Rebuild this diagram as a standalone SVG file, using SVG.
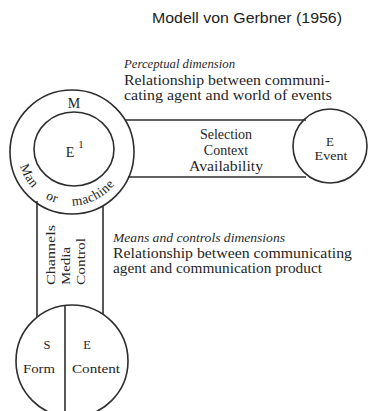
<svg xmlns="http://www.w3.org/2000/svg" width="369" height="411" viewBox="0 0 369 411">
  <defs>
    <style>
      .ln { fill: none; stroke: #2e2e2e; stroke-width: 1.6; }
      .t { font-family: "Liberation Serif", "Times New Roman", serif; fill: #262626; }
      .it { font-family: "Liberation Serif", "Times New Roman", serif; font-style: italic; fill: #2a2a2a; font-size: 12px; }
      .c { text-anchor: middle; }
    </style>
    <path id="arcMan" d="M 19.5 164 A 54 54 0 0 0 124.5 164"/>
  </defs>
  <rect width="369" height="411" fill="#ffffff"/>

  <text x="152" y="23" font-family="Liberation Sans, Arial, sans-serif" font-size="14" fill="#222" textLength="190" lengthAdjust="spacingAndGlyphs">Modell von Gerbner (1956)</text>

  <g id="connectors">
    <line class="ln" x1="125" y1="120" x2="306" y2="120"/>
    <line class="ln" x1="128" y1="177" x2="306" y2="177"/>
    <line class="ln" x1="37" y1="201" x2="37" y2="317"/>
    <line class="ln" x1="103" y1="206" x2="103" y2="314"/>
  </g>

  <g id="perceptual-label">
    <text class="it" x="124" y="68" textLength="111" lengthAdjust="spacingAndGlyphs">Perceptual dimension</text>
    <text class="t" x="124" y="85" font-size="14" textLength="206" lengthAdjust="spacingAndGlyphs">Relationship between communi-</text>
    <text class="t" x="124" y="100" font-size="14" textLength="208" lengthAdjust="spacingAndGlyphs">cating agent and world of events</text>
  </g>

  <g id="perceptual-band">
    <text class="t c" x="226" y="139" font-size="14">Selection</text>
    <text class="t c" x="226" y="155" font-size="14">Context</text>
    <text class="t c" x="226" y="171" font-size="14" textLength="74" lengthAdjust="spacingAndGlyphs">Availability</text>
  </g>

  <g id="means-band">
    <text class="t" transform="translate(55 285) rotate(-90)" font-size="13" textLength="60" lengthAdjust="spacingAndGlyphs">Channels</text>
    <text class="t" transform="translate(70 285) rotate(-90)" font-size="13" textLength="38" lengthAdjust="spacingAndGlyphs">Media</text>
    <text class="t" transform="translate(85 285) rotate(-90)" font-size="13" textLength="47" lengthAdjust="spacingAndGlyphs">Control</text>
  </g>

  <g id="means-label">
    <text class="it" x="113" y="242" textLength="172" lengthAdjust="spacingAndGlyphs">Means and controls dimensions</text>
    <text class="t" x="113" y="258" font-size="14" textLength="239" lengthAdjust="spacingAndGlyphs">Relationship between communicating</text>
    <text class="t" x="113" y="273" font-size="14" textLength="209" lengthAdjust="spacingAndGlyphs">agent and communication product</text>
  </g>

  <g id="agent">
    <circle class="ln" cx="72" cy="152" r="62"/>
    <ellipse class="ln" cx="74" cy="149" rx="40" ry="37"/>
    <text class="t c" x="74" y="108" font-size="14">M</text>
    <text class="t c" x="70" y="157" font-size="14">E</text>
    <text class="t c" x="81" y="148" font-size="11">1</text>
    <text class="t" font-size="13.5" letter-spacing="0.5" word-spacing="12"><textPath href="#arcMan" startOffset="2">Man or machine</textPath></text>
  </g>

  <g id="event">
    <circle class="ln" cx="330" cy="146" r="37"/>
    <text class="t c" x="330" y="146" font-size="13">E</text>
    <text class="t c" x="331" y="160" font-size="13.5" textLength="33" lengthAdjust="spacingAndGlyphs">Event</text>
  </g>

  <g id="product">
    <circle class="ln" cx="72" cy="361" r="56"/>
    <line class="ln" x1="65" y1="305" x2="65" y2="411"/>
    <text class="t c" x="47" y="349" font-size="12.5">S</text>
    <text class="t c" x="87" y="349" font-size="12.5">E</text>
    <text class="t c" x="39" y="373" font-size="13" textLength="32" lengthAdjust="spacingAndGlyphs">Form</text>
    <text class="t c" x="96" y="373" font-size="13" textLength="48" lengthAdjust="spacingAndGlyphs">Content</text>
  </g>
</svg>
